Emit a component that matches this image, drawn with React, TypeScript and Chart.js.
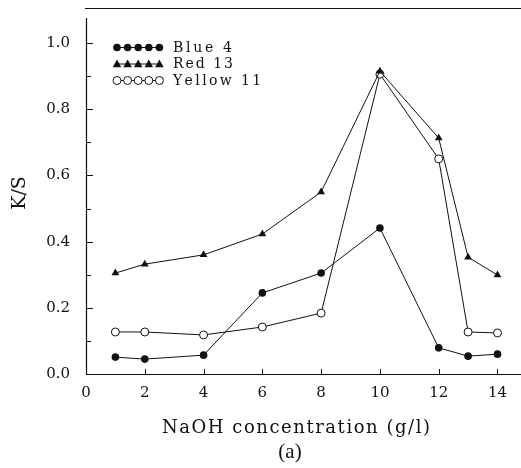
import React, { useEffect, useRef } from "react";
import { Chart, registerables } from "chart.js";

Chart.register(...registerables);

const naohConc = [1, 2, 4, 6, 8, 10, 12, 13, 14];
const blue4 = [0.051, 0.045, 0.057, 0.245, 0.305, 0.441, 0.079, 0.054, 0.06];
const red13 = [0.305, 0.332, 0.36, 0.423, 0.55, 0.915, 0.713, 0.353, 0.299];
const yellow11 = [0.127, 0.127, 0.118, 0.142, 0.184, 0.906, 0.65, 0.127, 0.124];
const xTickValues = [0, 2, 4, 6, 8, 10, 12, 14];
const yTickValues = [0, 0.2, 0.4, 0.6, 0.8, 1.0];
const yMinorValues = [0.1, 0.3, 0.5, 0.7, 0.9];
const legendLabels = ["Blue 4", "Red 13", "Yellow 11"];
const xTitle = "NaOH concentration (g/l)";
const yTitle = "K/S";
const panelLabel = "(a)";

const INK = "#111";

function spacedText(ctx: CanvasRenderingContext2D, text: string, x: number, y: number, target: number) {
  ctx.textAlign = "left";
  const natural = ctx.measureText(text).width;
  const extra = text.length > 1 ? (target - natural) / (text.length - 1) : 0;
  let cx = x;
  for (let i = 0; i < text.length; i++) {
    ctx.fillText(text[i], cx, y);
    cx += ctx.measureText(text[i]).width + extra;
  }
}

function drawMarker(ctx: CanvasRenderingContext2D, kind: string, x: number, y: number) {
  ctx.beginPath();
  if (kind === "tri") {
    const r = 4.5;
    ctx.moveTo(x, y - r);
    ctx.lineTo(x + r * 0.95, y + r * 0.7);
    ctx.lineTo(x - r * 0.95, y + r * 0.7);
    ctx.closePath();
    ctx.fillStyle = INK;
    ctx.fill();
  } else if (kind === "open") {
    ctx.arc(x, y, 4, 0, Math.PI * 2);
    ctx.fillStyle = "#fff";
    ctx.fill();
    ctx.lineWidth = 1;
    ctx.strokeStyle = INK;
    ctx.stroke();
  } else {
    ctx.arc(x, y, 3.8, 0, Math.PI * 2);
    ctx.fillStyle = INK;
    ctx.fill();
  }
}

const decor = {
  id: "decor",
  afterDraw(chart: any) {
    const ctx: CanvasRenderingContext2D = chart.ctx;
    const { left, right, top, bottom } = chart.chartArea;
    const xs = chart.scales.x;
    const ys = chart.scales.y;
    ctx.save();
    ctx.strokeStyle = INK;
    ctx.lineWidth = 1.2;
    ctx.beginPath();
    ctx.moveTo(left - 1, top + 0.5);
    ctx.lineTo(right, top + 0.5);
    ctx.stroke();
    ctx.beginPath();
    ctx.moveTo(left + 0.5, top + 10);
    ctx.lineTo(left + 0.5, bottom);
    ctx.stroke();
    ctx.beginPath();
    ctx.moveTo(left, bottom + 0.5);
    ctx.lineTo(right, bottom + 0.5);
    ctx.stroke();
    ctx.lineWidth = 1;
    for (const v of xTickValues) {
      const px = Math.round(xs.getPixelForValue(v)) + 0.5;
      ctx.beginPath();
      ctx.moveTo(px, bottom);
      ctx.lineTo(px, bottom - 5);
      ctx.stroke();
    }
    for (const v of yTickValues) {
      const py = Math.round(ys.getPixelForValue(v)) + 0.5;
      ctx.beginPath();
      ctx.moveTo(left, py);
      ctx.lineTo(left + 7, py);
      ctx.stroke();
    }
    for (const v of yMinorValues) {
      const py = Math.round(ys.getPixelForValue(v)) + 0.5;
      ctx.beginPath();
      ctx.moveTo(left, py);
      ctx.lineTo(left + 5, py);
      ctx.stroke();
    }
    ctx.fillStyle = INK;
    ctx.textBaseline = "alphabetic";
    ctx.font = "18px 'DejaVu Serif'";
    spacedText(ctx, xTitle, 162, 433, 268);
    ctx.font = "21px 'Liberation Serif'";
    ctx.textAlign = "center";
    ctx.textBaseline = "middle";
    ctx.fillText(panelLabel, 290, 452);
    ctx.save();
    ctx.translate(20, 193);
    ctx.rotate(-Math.PI / 2);
    ctx.font = "19px 'DejaVu Serif'";
    ctx.textAlign = "center";
    ctx.textBaseline = "middle";
    ctx.fillText(yTitle, 0, 0);
    ctx.restore();
    const kinds = ["filled", "tri", "open"];
    const rows = [47, 63.5, 80];
    const widths = [59, 60, 87];
    for (let i = 0; i < 3; i++) {
      const y = rows[i];
      ctx.strokeStyle = INK;
      ctx.lineWidth = 1;
      ctx.beginPath();
      ctx.moveTo(117, y + 0.5);
      ctx.lineTo(160, y + 0.5);
      ctx.stroke();
      for (let k = 0; k < 5; k++) {
        drawMarker(ctx, kinds[i], 117 + k * 10.6, y + 0.5);
      }
      ctx.fillStyle = INK;
      ctx.font = "14px 'DejaVu Serif'";
      ctx.textBaseline = "middle";
      spacedText(ctx, legendLabels[i], 173, y + 1, widths[i]);
    }
    ctx.restore();
  },
};

export default function App() {
  const ref = useRef<HTMLCanvasElement | null>(null);
  useEffect(() => {
    document.body.style.margin = "0";
    const canvas = ref.current!;
    const mk = (arr: number[]) => naohConc.map((x, i) => ({ x, y: arr[i] }));
    const chart = new Chart(canvas, {
      type: "line",
      data: {
        datasets: [
          {
            label: "Blue 4",
            data: mk(blue4),
            borderColor: INK,
            borderWidth: 1,
            pointStyle: "circle",
            pointRadius: 3.8,
            pointBackgroundColor: INK,
            pointBorderColor: INK,
            pointBorderWidth: 0,
            tension: 0,
          },
          {
            label: "Red 13",
            data: mk(red13),
            borderColor: INK,
            borderWidth: 1,
            pointStyle: "triangle",
            pointRadius: 4.5,
            pointBackgroundColor: INK,
            pointBorderColor: INK,
            pointBorderWidth: 0,
            tension: 0,
          },
          {
            label: "Yellow 11",
            data: mk(yellow11),
            borderColor: INK,
            borderWidth: 1,
            pointStyle: "circle",
            pointRadius: 4,
            pointBackgroundColor: "#fff",
            pointBorderColor: INK,
            pointBorderWidth: 1,
            tension: 0,
          },
        ],
      },
      options: {
        responsive: false,
        animation: false,
        devicePixelRatio: 1,
        layout: { autoPadding: false, padding: { top: 8, right: 0, left: 0, bottom: 0 } },
        plugins: { legend: { display: false }, tooltip: { enabled: false }, title: { display: false } },
        scales: {
          x: {
            type: "linear",
            min: 0,
            max: 14.8,
            grid: { display: false, drawTicks: false },
            border: { display: false },
            afterBuildTicks: (s: any) => {
              s.ticks = xTickValues.map((v) => ({ value: v }));
            },
            afterFit: (s: any) => {
              s.height = 94;
              s.paddingLeft = 0;
              s.paddingRight = 0;
            },
            ticks: {
              font: { family: "'DejaVu Serif'", size: 15 },
              color: INK,
              padding: 10,
              maxRotation: 0,
              autoSkip: false,
              callback: (v: any) => String(v),
            },
          },
          y: {
            type: "linear",
            min: 0,
            max: 1.106,
            grid: { display: false, drawTicks: false },
            border: { display: false },
            afterBuildTicks: (s: any) => {
              s.ticks = yTickValues.map((v) => ({ value: v }));
            },
            afterFit: (s: any) => {
              s.width = 86;
              s.paddingTop = 0;
              s.paddingBottom = 0;
            },
            ticks: {
              font: { family: "'DejaVu Serif'", size: 15 },
              color: INK,
              padding: 16,
              autoSkip: false,
              callback: (v: any) => Number(v).toFixed(1),
            },
          },
        },
      },
      plugins: [decor],
    } as any);
    return () => chart.destroy();
  }, []);
  return (
    <div style={{ width: 521, height: 468 }}>
      <canvas ref={ref} width={521} height={468} style={{ width: 521, height: 468, display: "block" }} />
    </div>
  );
}
